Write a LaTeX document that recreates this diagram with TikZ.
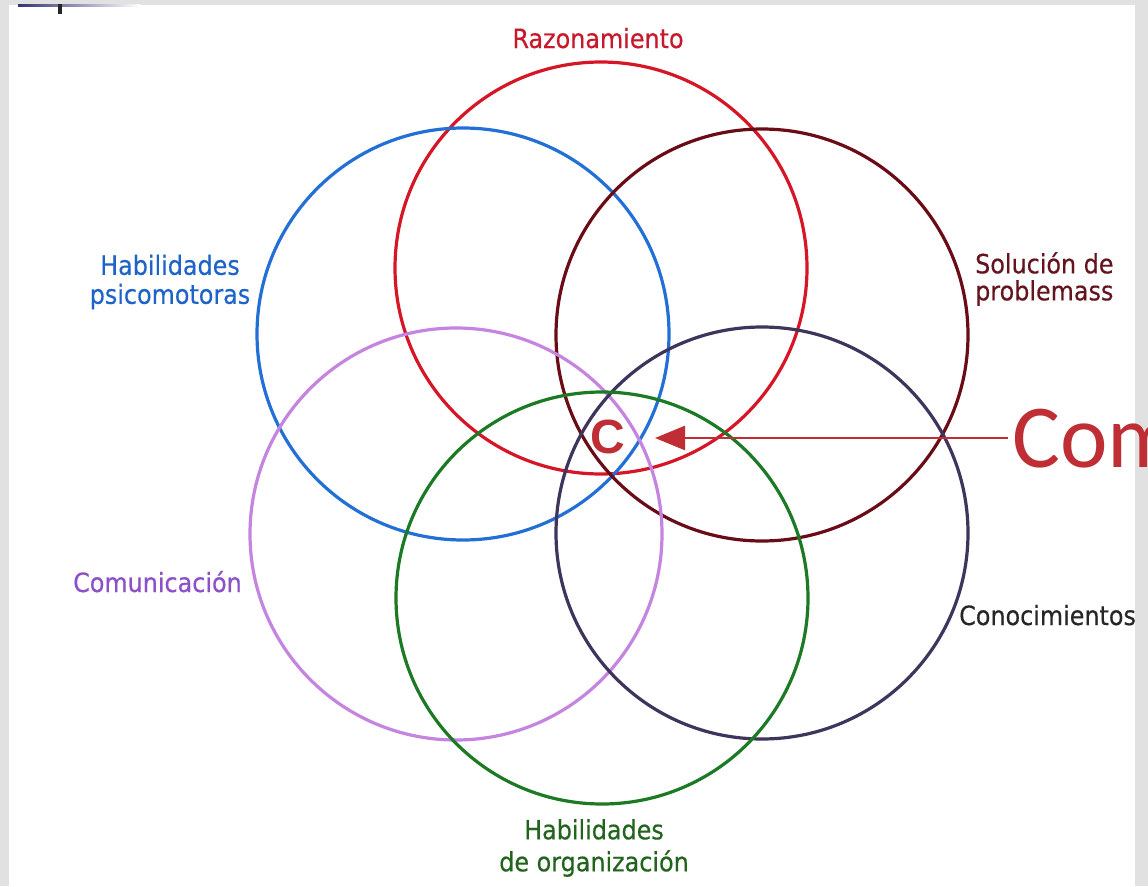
\documentclass[tikz,border=0pt]{standalone}
\usepackage{fontspec}
\setmainfont{DejaVu Sans}
\newfontfamily\labfont[FakeStretch=0.9,FakeBold=0.4]{DejaVu Sans}
\newfontfamily\comfont{Carlito}
\newfontfamily\cfont{Liberation Sans}
\usetikzlibrary{arrows.meta}
\definecolor{cred}{RGB}{214,22,38}
\definecolor{cblue}{RGB}{34,112,214}
\definecolor{cmaroon}{RGB}{106,12,22}
\definecolor{cpurple}{RGB}{196,132,224}
\definecolor{cnavy}{RGB}{62,52,92}
\definecolor{cgreen}{RGB}{28,122,36}
\definecolor{tred}{RGB}{200,24,44}
\definecolor{tblue}{RGB}{30,100,200}
\definecolor{tmaroon}{RGB}{100,20,30}
\definecolor{tpurple}{RGB}{140,80,200}
\definecolor{tgreen}{RGB}{34,100,30}
\definecolor{comred}{RGB}{190,46,52}
\definecolor{bordergray}{RGB}{225,225,225}
\definecolor{topblue}{RGB}{50,50,120}
\tikzset{
  ring/.style={circle, draw, line width=3.2pt, inner sep=0pt, minimum size=412pt},
  lab/.style={font=\labfont\fontsize{26.5}{26}\selectfont, inner sep=0pt},
}
\begin{document}
\begin{tikzpicture}[x=1pt,y=-1pt]
\useasboundingbox (0,0) rectangle (1148,886);
\clip (0,0) rectangle (1148,886);
\fill[white] (0,0) rectangle (1148,886);
% frame strips
\fill[bordergray] (0,0) rectangle (1148,5);
\fill[bordergray] (0,0) rectangle (9,886);
\fill[bordergray] (1135,0) rectangle (1148,886);
\shade[left color=topblue, right color=white] (18,4) rectangle (140,6.5);
\fill[black!85] (58,4) rectangle (62,14);
% circles
\node[ring, draw=cred]    (razon) at (601,268) {};
\node[ring, draw=cblue]   (psico) at (463,334) {};
\node[ring, draw=cmaroon] (solu)  at (762,335) {};
\node[ring, draw=cpurple] (comu)  at (456,534) {};
\node[ring, draw=cnavy]   (cono)  at (762,533) {};
\node[ring, draw=cgreen]  (orga)  at (602,598) {};
% labels
\node[lab, text=tred, anchor=base] (lrazon) at (598,48) {Razonamiento};
\node[lab, text=tblue, align=center, font=\labfont\fontsize{26.5}{29}\selectfont] (lpsico) at (170,282) {Habilidades\\psicomotoras};
\node[lab, text=tmaroon, align=left, anchor=west, font=\labfont\fontsize{26.5}{27}\selectfont] (lsolu) at (975,279) {Solución de\\problemass};
\node[lab, text=tpurple, anchor=base west] (lcomu) at (73,592) {Comunicación};
\node[lab, text=black!85, anchor=base west] (lcono) at (959,625) {Conocimientos};
\node[lab, text=tgreen, align=center, font=\labfont\fontsize{26.5}{32}\selectfont] (lorga) at (594,848) {Habilidades\\de organización};
% C and arrow
\node[font=\cfont\bfseries\fontsize{48}{48}\selectfont, text=comred, inner sep=0pt] (c) at (608,437) {C};
\node[font=\comfont\fontsize{90}{90}\selectfont, text=comred, inner sep=0pt, anchor=base west] (com) at (1012,467) {Com};
\coordinate (tip) at (655,438);
\draw[comred, line width=2.6pt, -{Triangle[length=30pt,width=24pt]}] (com.west |- tip) ++(-4,0) -- (tip);
\end{tikzpicture}
\end{document}
